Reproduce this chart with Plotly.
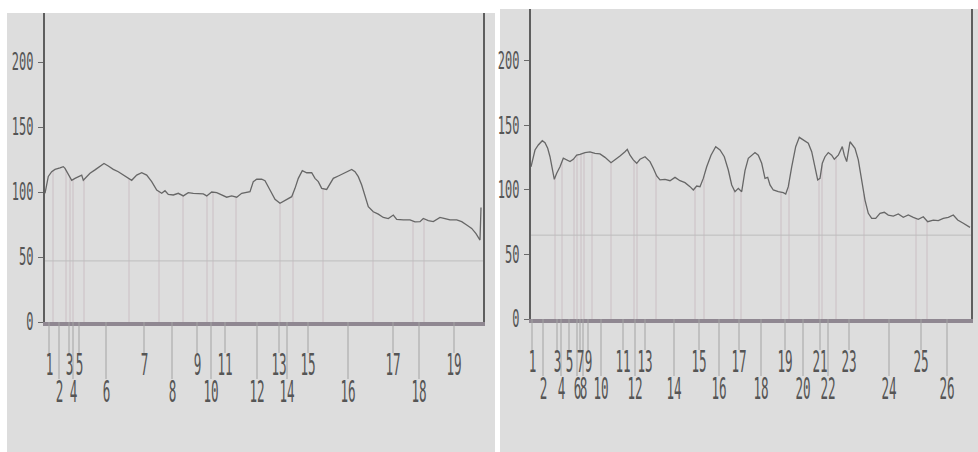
import numpy as np
import plotly.graph_objects as go

W, H = 978, 452

# ---- Strip A (left): scan position vs. optical density ----
a_pos = [0, 3.3, 6.7, 10, 15, 18.3, 20, 23.3, 26.7, 30, 33.3, 36.7, 38.3, 41.7, 45, 50, 55, 59,
         63.3, 68.3, 73.3, 78.3, 83.3, 86.7, 91.7, 96.7, 101.7, 106.7, 111.7, 116.7, 120, 123.3,
         128.3, 133.3, 138.3, 143.3, 148.3, 153.3, 158.3, 161.7, 166.7, 171.7, 176.7, 181.7,
         186.7, 191.7, 196.7, 201.7, 205, 208.3, 211.7, 216.7, 220, 225, 230, 235, 238.3, 241.7,
         246.7, 250, 253.3, 257.3, 261.7, 266.7, 270, 273.3, 276.7, 281.7, 285, 288.3, 293.3,
         298.3, 302.3, 306.7, 310, 313.3, 316.7, 320, 323.3, 328.3, 333.3, 338.3, 343.3, 348.3,
         351.7, 358.3, 365, 370, 375, 378.3, 383.3, 388.3, 395, 400, 405, 411.7, 416.7, 421.7,
         426.7, 431, 435, 436]
a_od = [99, 112, 115.6, 117.4, 118.5, 119.5, 118.2, 114, 109, 110.5, 111.8, 113, 109, 111.8,
        114.4, 117, 120, 122, 120, 117.4, 115.6, 113, 110.5, 109, 113, 114.8, 113, 108, 101.5,
        99, 101, 98.2, 97.7, 99, 97, 99.5, 99, 98.5, 98.5, 97, 100, 99.5, 97.7, 96, 97, 96, 99,
        99.5, 100.3, 108, 109.8, 109.8, 108.7, 101.5, 94.4, 91.3, 92.6, 94.4, 96.4, 102.8, 110.5,
        116.4, 114.8, 114.8, 110.5, 108, 102.8, 102, 106.7, 110.5, 112.3, 114.4, 116.2, 117.4,
        115.6, 111.8, 105.4, 96.4, 88.7, 84.8, 83, 80.4, 79.6, 82.3, 79, 78.5, 78.5, 77, 77.2,
        79.6, 78, 77.2, 80.4, 79.6, 78.5, 78.5, 77.2, 74.6, 72, 68, 63, 88]
a_bounds = [8, 21, 25, 28, 39, 84, 114, 138, 162, 168, 191, 235, 248, 278, 328, 368, 379]
a_label_pos = [4, 14, 24, 28, 34, 61, 99, 127, 152, 166, 180, 212, 234, 242, 263, 303, 348, 374, 409]
a_labels = [str(i) for i in range(1, 20)]
a_background = 47

# ---- Strip B (right) ----
b_pos = [0, 2.3, 4, 7.3, 11.3, 14, 16.7, 19, 21.3, 23.3, 25.7, 29, 32.3, 35.7, 39, 42.3, 45.7,
         49, 54, 59, 64, 69, 74, 80, 84, 89, 94, 96.3, 99, 102.3, 105.7, 109, 114, 119, 122.3,
         125.7, 129, 134, 139, 144, 149, 154, 159, 162.3, 165.7, 169, 172.3, 175.7, 180, 184.7,
         189, 193.3, 197.3, 200.7, 204, 207.3, 210.7, 214, 217.3, 220.7, 224, 227.3, 230.7, 234,
         236.7, 239, 242.3, 247.3, 252.3, 254.7, 257.3, 260.7, 264.7, 268.3, 272.3, 277.3, 280.7,
         284, 286.7, 289, 291.3, 294, 297.3, 300.7, 303.3, 307.3, 311.3, 313.3, 315.7, 319, 324,
         327.3, 330.7, 334, 337.3, 340.7, 344.7, 349, 353.3, 357.3, 362.3, 367.3, 372.3, 377.3,
         382.3, 387.3, 392.3, 396.7, 402.3, 407.3, 412.3, 417.3, 422.3, 426.7, 432.3, 437.3, 439]
b_od = [118, 125.8, 131, 134.9, 138.2, 136.7, 132.3, 125.8, 115.5, 108.3, 113, 118, 124.6, 123.3,
        122, 123.8, 127, 127.7, 129, 129.5, 128.4, 128, 125.3, 121.2, 123.3, 126.4, 129.7, 131.5,
        127, 123.3, 120.7, 123.8, 125.8, 122, 116.8, 110.9, 107.8, 108.3, 107.2, 109.8, 107.2,
        105.7, 102.6, 100, 103.1, 102.6, 109, 118, 127, 133.6, 131, 125.8, 115.5, 103.9, 98.7,
        101.3, 98.7, 115, 124.6, 127, 129, 127, 120.7, 109, 109.8, 103.9, 100, 98.7, 97.9, 96.9,
        102.6, 118, 133.6, 140.8, 138.8, 136.2, 129.7, 118, 107.8, 109, 120.7, 125.8, 129, 127,
        123.8, 127, 133.6, 127, 122, 137.4, 132.3, 123.3, 107.8, 92.2, 81.9, 78, 78, 81.9, 82.7,
        80.6, 79.8, 81.4, 78.8, 80.6, 78.8, 77.3, 79.3, 75.4, 76.7, 76.2, 78, 78.8, 80.6, 76.7,
        74.2, 72.1, 71]
b_bounds = [24, 31, 43, 46, 50, 53, 61, 80, 103, 106, 125, 164, 173, 203, 210, 250, 258, 288,
            291, 305, 333, 385, 396]
b_label_pos = [1, 12, 26, 30, 38, 46, 49, 52, 57, 70, 92, 104, 114, 143, 168, 188, 208, 230,
               254, 272, 289, 297, 318, 358, 390, 416]
b_labels = [str(i) for i in range(1, 27)]
b_background = 65

TICKS = [0, 50, 100, 150, 200]


def py(px):
    """Pixel row -> paper fraction."""
    return 1 - px / H


def pxx(px):
    return px / W


PANEL_BG = "#dddddd"
CURVE = "#676767"
BOUND = "#cbbfc4"
LEADER = "#a3a3a3"
TEXT = "#555555"
NUM_FONT = "DejaVu Sans Mono, Liberation Mono, monospace"
LABEL_SIZE = 30
LABEL_SQUEEZE = 0.42   # horizontal squeeze of lane numbers
TICK_SQUEEZE = 0.5     # horizontal squeeze of axis numerals
DIGIT_W = 0.602 * LABEL_SIZE * LABEL_SQUEEZE

panels = [
    dict(pos=a_pos, od=a_od, bounds=a_bounds, lab_pos=a_label_pos, labels=a_labels,
         bg=a_background, xa="x", ya="y", xdom=(45, 483), ydom=(322, 13), yr=237.7, xr=438,
         box=(7, 13, 495, 452)),
    dict(pos=b_pos, od=b_od, bounds=b_bounds, lab_pos=b_label_pos, labels=b_labels,
         bg=b_background, xa="x2", ya="y2", xdom=(531, 971), ydom=(319, 9), yr=240.3, xr=440,
         box=(500, 9, 978, 452)),
]

fig = go.Figure()
shapes = []
annotations = []
layout_axes = {}

for i, p in enumerate(panels):
    # panel backdrop
    x0, y0, x1, y1 = p["box"]
    shapes.append(dict(type="rect", xref="paper", yref="paper", x0=pxx(x0), x1=pxx(x1),
                       y0=py(y1), y1=py(y0), fillcolor=PANEL_BG, line_width=0, layer="below"))

    # lane boundary drops from the profile to the baseline
    tops = np.interp(p["bounds"], p["pos"], p["od"])
    bx, by = [], []
    for b, t in zip(p["bounds"], tops):
        bx += [b, b, None]
        by += [0, t, None]
    fig.add_trace(go.Scatter(x=bx, y=by, mode="lines", xaxis=p["xa"], yaxis=p["ya"],
                             line=dict(color=BOUND, width=1), hoverinfo="skip",
                             showlegend=False))

    # background level
    fig.add_trace(go.Scatter(x=[0, p["xr"]], y=[p["bg"], p["bg"]], mode="lines",
                             xaxis=p["xa"], yaxis=p["ya"],
                             line=dict(color="#bdbdbd", width=1), hoverinfo="skip",
                             showlegend=False))

    # density profile
    fig.add_trace(go.Scatter(x=p["pos"], y=p["od"], mode="lines", xaxis=p["xa"], yaxis=p["ya"],
                             line=dict(color=CURVE, width=1.3), showlegend=False))

    # lane numbers with leader lines, alternating between two rows
    axis_y = py(p["ydom"][0])
    for k, (lx, lab) in enumerate(zip(p["lab_pos"], p["labels"])):
        lower = k % 2 == 1
        end_px = p["ydom"][0] + (57 if lower else 31)
        text_px = p["ydom"][0] + (69 if lower else 42)
        shapes.append(dict(type="line", xref=p["xa"], yref="paper", x0=lx, x1=lx,
                           y0=axis_y, y1=py(end_px), line=dict(color=LEADER, width=1)))
        annotations.append(dict(x=lx, y=py(text_px), xref=p["xa"], yref="paper", text=lab,
                                showarrow=False, xanchor="center", yanchor="middle",
                                borderpad=0, width=round(DIGIT_W * len(lab) + 1), height=25,
                                font=dict(family=NUM_FONT, size=LABEL_SIZE, color=TEXT)))

    sfx = "" if i == 0 else str(i + 1)
    layout_axes["xaxis" + sfx] = dict(
        domain=[pxx(p["xdom"][0]), pxx(p["xdom"][1])], range=[0, p["xr"]],
        showgrid=False, zeroline=False, showticklabels=False, ticks="",
        showline=True, linecolor="#8f8791", linewidth=3.5, mirror=False,
        anchor="y" + sfx, fixedrange=True, automargin=False)
    layout_axes["yaxis" + sfx] = dict(
        domain=[py(p["ydom"][0]), py(p["ydom"][1])], range=[0, p["yr"]],
        tickvals=TICKS, ticks="outside", ticklen=5, tickwidth=1.2, tickcolor="#6a6a6a",
        tickfont=dict(family=NUM_FONT, size=24, color=TEXT),
        showgrid=False, zeroline=False, showline=True, linecolor="#5e5e5e", linewidth=1.6,
        mirror=True, anchor="x" + sfx, fixedrange=True, automargin=False)

fig.update_layout(
    width=W, height=H, margin=dict(l=0, r=0, t=0, b=0, autoexpand=False),
    paper_bgcolor="white", plot_bgcolor="rgba(0,0,0,0)",
    shapes=shapes, annotations=annotations, showlegend=False,
    **layout_axes,
)

# page flush to the window edge; numerals squeezed into a narrow printout face
condense = """
document.body.style.margin = '0';
document.body.style.overflow = 'hidden';
var gd = document.getElementById('{plot_id}');
function squeeze(sel, k) {
  gd.querySelectorAll(sel).forEach(function (t) {
    t.setAttribute('textLength', (t.getComputedTextLength() * k).toFixed(1));
    t.setAttribute('lengthAdjust', 'spacingAndGlyphs');
  });
}
squeeze('g.ytick text, g.y2tick text', %s);
squeeze('text.annotation-text', %s);
""" % (TICK_SQUEEZE, LABEL_SQUEEZE)

fig.write_html("out.html", config={"displayModeBar": False}, post_script=condense)
